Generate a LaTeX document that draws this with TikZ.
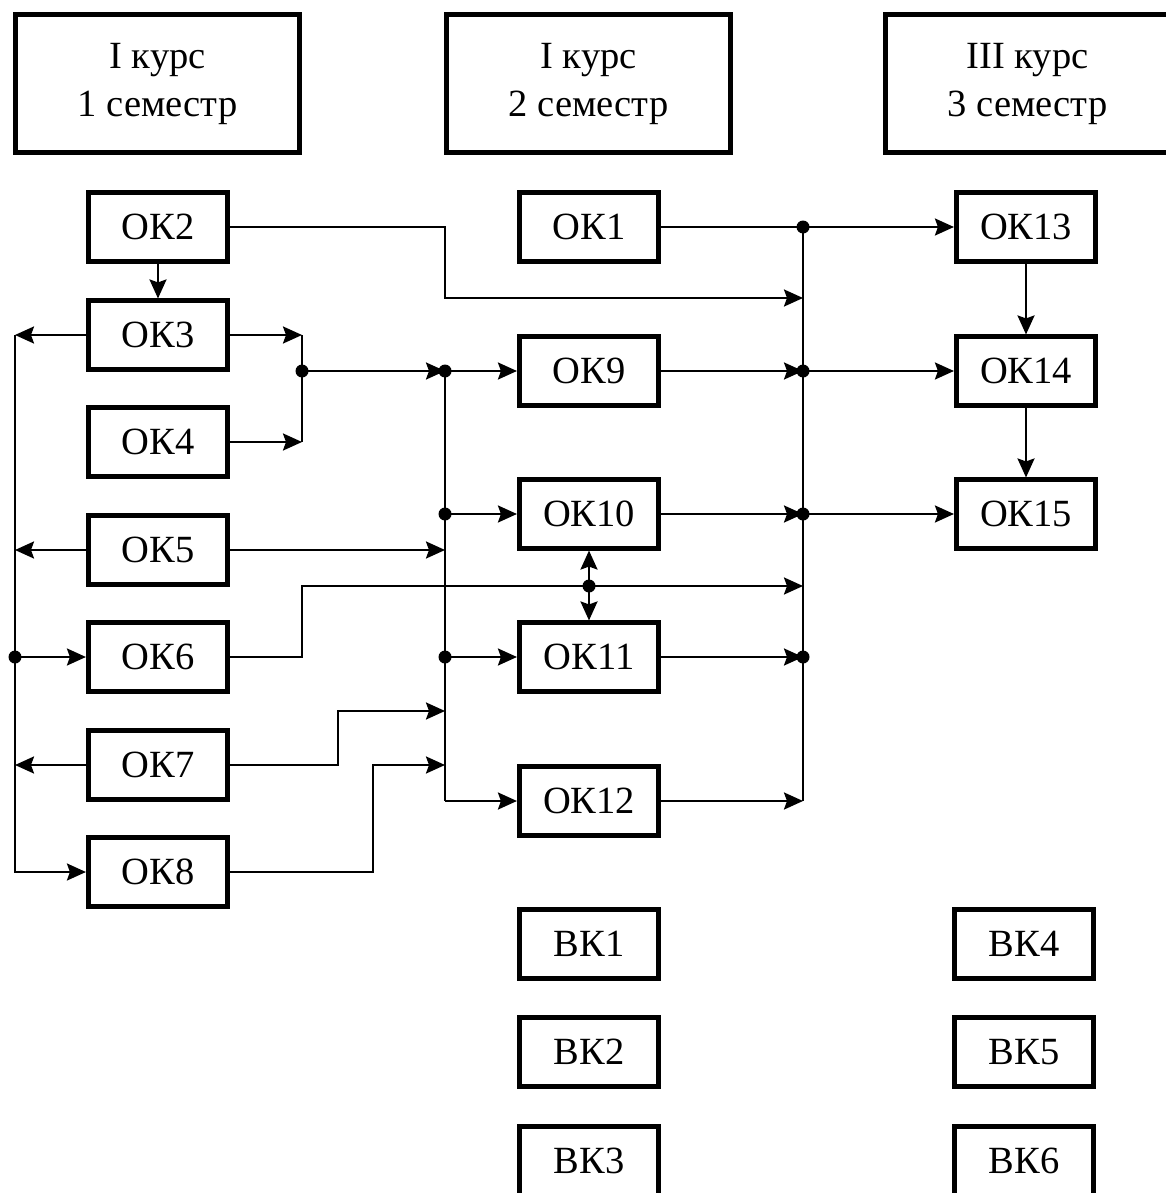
\documentclass[tikz,border=0pt]{standalone}
\usepackage{fontspec}
\setmainfont{Liberation Serif}
\usetikzlibrary{arrows.meta}
\tikzset{
    box/.style={draw, line width=4.6pt, minimum width=139.5pt, minimum height=68.5pt, inner sep=0pt, font=\fontsize{38.5}{48}\selectfont},
    headbox/.style={box, minimum width=284.5pt, minimum height=138.5pt, align=center},
    arr/.style={-{Stealth[length=19pt,width=17pt,inset=3pt]}},
    junction/.style={circle, fill=black, inner sep=0pt, minimum size=13pt},
}
\begin{document}
\begin{tikzpicture}[x=1pt,y=-1pt,line width=2.4pt]
    \useasboundingbox (0,0) rectangle (1166,1193);
    \clip (0,0) rectangle (1166,1193);
    \node[headbox] (sem1) at (157.5,83.5) {I курс\\1 семестр};
    \node[headbox] (sem2) at (588.5,83.5) {I курс\\2 семестр};
    \node[headbox] (sem3) at (1027.5,83.5) {III курс\\3 семестр};
    \node[box] (ok2) at (158,227) {ОК2};
    \node[box] (ok3) at (158,335) {ОК3};
    \node[box] (ok4) at (158,442) {ОК4};
    \node[box] (ok5) at (158,550) {ОК5};
    \node[box] (ok6) at (158,657) {ОК6};
    \node[box] (ok7) at (158,765) {ОК7};
    \node[box] (ok8) at (158,872) {ОК8};
    \node[box] (ok1) at (589,227) {ОК1};
    \node[box] (ok9) at (589,371) {ОК9};
    \node[box] (ok10) at (589,514) {ОК10};
    \node[box] (ok11) at (589,657) {ОК11};
    \node[box] (ok12) at (589,801) {ОК12};
    \node[box] (ok13) at (1026,227) {ОК13};
    \node[box] (ok14) at (1026,371) {ОК14};
    \node[box] (ok15) at (1026,514) {ОК15};
    \node[box] (vk1) at (589,944) {ВК1};
    \node[box] (vk2) at (589,1052) {ВК2};
    \node[box] (vk3) at (589,1161) {ВК3};
    \node[box] (vk4) at (1024,944) {ВК4};
    \node[box] (vk5) at (1024,1052) {ВК5};
    \node[box] (vk6) at (1024,1161) {ВК6};
    \coordinate (lbusT) at (15,335);
    \coordinate (lbusB) at (15,872);
    \coordinate (j34) at (302,371);
    \coordinate (mbusT) at (445,371);
    \coordinate (mbusB) at (445,801);
    \coordinate (rbusT) at (803,227);
    \coordinate (rbusB) at (803,801);
    \coordinate (in2) at (803,298);
    \coordinate (in6) at (803,586);
    \coordinate (in7) at (445,711);
    \coordinate (in8) at (445,765);
    \coordinate (j1011) at (589,586);
    \draw[arr] (ok2) -- (ok3);
    \draw[arr] (ok3.west) -- (ok3 -| lbusT);
    \draw[arr] (ok5.west) -- (ok5 -| lbusT);
    \draw[arr] (ok7.west) -- (ok7 -| lbusT);
    \draw[arr] (lbusT) -- (lbusB) -- (ok8.west);
    \draw[arr] (ok6 -| lbusT) -- (ok6.west);
    \draw[arr] (ok3.east) -- (ok3 -| j34);
    \draw[arr] (ok4.east) -- (ok4 -| j34);
    \draw (ok3 -| j34) -- (ok4 -| j34);
    \draw[arr] (j34) -- (mbusT);
    \draw (mbusT) -- (mbusB);
    \draw[arr] (mbusB) -- (ok12.west);
    \draw[arr] (mbusT) -- (ok9.west);
    \draw[arr] (ok10 -| mbusT) -- (ok10.west);
    \draw[arr] (ok11 -| mbusT) -- (ok11.west);
    \draw[arr] (ok5.east) -- (ok5 -| mbusT);
    \draw[arr] (ok7.east) -| (338,711) -- (in7);
    \draw[arr] (ok8.east) -| (373,765) -- (in8);
    \draw[arr] (ok6.east) -| (302,586) -- (in6);
    \draw[arr] (j1011) -- (ok10.south);
    \draw[arr] (j1011) -- (ok11.north);
    \draw[arr] (ok2.east) -| (445,298) -- (in2);
    \draw (rbusT) -- (rbusB);
    \draw[arr] (ok1.east) -- (ok13.west);
    \draw[arr] (ok9.east) -- (ok9 -| rbusT);
    \draw[arr] (ok9 -| rbusT) -- (ok14.west);
    \draw[arr] (ok10.east) -- (ok10 -| rbusT);
    \draw[arr] (ok10 -| rbusT) -- (ok15.west);
    \draw[arr] (ok11.east) -- (ok11 -| rbusT);
    \draw[arr] (ok12.east) -- (rbusB);
    \draw[arr] (ok13) -- (ok14);
    \draw[arr] (ok14) -- (ok15);
    \node[junction] (d6) at (ok6 -| lbusT) {};
    \node[junction] (d34) at (j34) {};
    \node[junction] (d9) at (mbusT) {};
    \node[junction] (d10) at (ok10 -| mbusT) {};
    \node[junction] (d11) at (ok11 -| mbusT) {};
    \node[junction] (d1011) at (j1011) {};
    \node[junction] (e1) at (rbusT) {};
    \node[junction] (e9) at (ok9 -| rbusT) {};
    \node[junction] (e10) at (ok10 -| rbusT) {};
    \node[junction] (e11) at (ok11 -| rbusT) {};
\end{tikzpicture}
\end{document}
